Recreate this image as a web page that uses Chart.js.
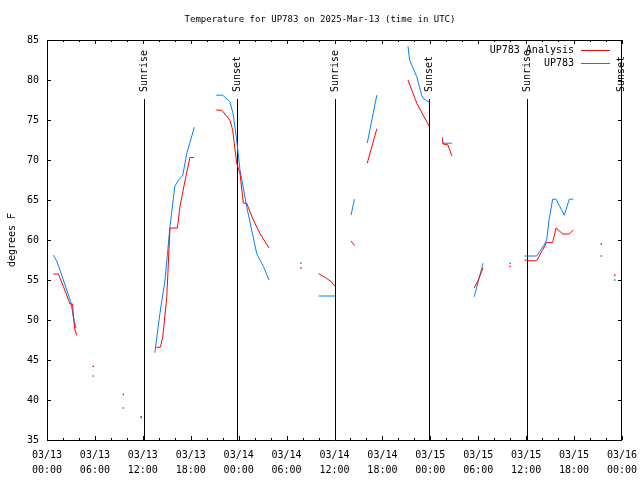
<!DOCTYPE html>
<html>
<head>
<meta charset="utf-8">
<script src="https://cdn.jsdelivr.net/npm/chart.js@4"></script>
<style>
  html, body { margin: 0; padding: 0; background: #fff; }
  #wrap { width: 640px; height: 480px; }
</style>
</head>
<body>
<div id="wrap"><canvas id="myChart" width="640" height="480"></canvas></div>
<script>
// hours since 03/13 00:00 UTC, null = gap in the record
var anaHours = [0.79, 1.42, 2.05, 2.88, 3.21, 3.3, 3.5, 3.72, 4.5,
    5.8, 6.5, 9.56, 10.5, 11.8, 12.5,
    13.7, 14.2, 14.5, 15.0, 15.4, 16.33, 16.65, 17.3, 17.9, 18.4, 19.5,
    21.2, 21.9, 22.9, 23.25, 23.75, 24.17, 24.58, 25.0, 25.83, 26.67, 27.8, 29,
    31.8, 33,
    34.0, 35.0, 35.6, 36.06, 37,
    38.07, 38.5, 39,
    40.1, 41.3, 43,
    45.2, 46.3, 47.87, 48.5,
    49.5, 49.6, 50.2, 50.7, 52,
    53.5, 54.0, 54.6, 56,
    58.0, 59,
    59.8, 60.5, 61.32, 62.57, 63.32, 63.74, 64.6, 65.4, 65.9, 67,
    69.4, 70,
    71.1];
var anaTemps = [55.75, 55.75, 54.2, 52.0, 52.0, 50.4, 48.75, 48.1, null,
    44.2, null, 40.7, null, 37.8, null,
    46.6, 46.6, 47.9, 52.9, 61.5, 61.5, 64.2, 67.5, 70.3, 70.3, null,
    76.25, 76.2, 75.0, 73.75, 69.6, 68.3, 64.6, 64.6, 62.5, 60.8, 59.0, null,
    56.5, null,
    55.8, 55.2, 54.8, 54.2, null,
    59.9, 59.3, null,
    69.6, 73.9, null,
    80.0, 77.1, 74.2, null,
    72.8, 72.0, 71.9, 70.5, null,
    54.0, 55.0, 56.5, null,
    56.7, null,
    57.5, 57.4, 57.4, 59.7, 59.7, 61.5, 60.75, 60.75, 61.25, null,
    59.5, null,
    55.6];

var obsHours = [0.79, 1.2, 1.63, 2.05, 2.47, 2.97, 3.3, 3.63, 4.5,
    5.8, 6.5, 9.56, 10.5, 11.8, 12.5,
    13.5, 14.15, 14.78, 15.4, 15.8, 16.0, 16.45, 16.98, 17.5, 18.45, 19.5,
    21.2, 22.0, 22.9, 23.3, 23.75, 24.17, 25.0, 26.26, 27.1, 27.8, 29,
    31.8, 33,
    34.0, 36.06, 37,
    38.07, 38.5, 39,
    40.1, 41.3, 43,
    45.2, 45.4, 46.3, 46.92, 47.1, 47.87, 48.5,
    49.5, 50.7, 52,
    53.5, 54.6, 56,
    58.0, 59,
    59.8, 61.32, 62.2, 62.57, 62.86, 63.32, 63.74, 64.78, 65.4, 65.9, 67,
    69.4, 70,
    71.1];
var obsTemps = [58.1, 57.4, 56.25, 55.0, 53.75, 52.3, 50.4, 49.0, null,
    43.0, null, 39.0, null, 37.9, null,
    45.9, 50.9, 55.0, 61.7, 65.0, 66.7, 67.5, 68.0, 70.8, 74.1, null,
    78.1, 78.1, 77.3, 75.8, 72.5, 68.75, 64.2, 58.3, 56.7, 55.0, null,
    57.1, null,
    53.0, 53.0, null,
    63.1, 65.1, null,
    72.1, 78.1, null,
    84.2, 82.5, 80.4, 78.1, 77.7, 77.2, null,
    72.1, 72.1, null,
    52.9, 57.1, null,
    57.1, null,
    58.0, 58.0, 59.3, 60.0, 62.5, 65.1, 65.1, 63.1, 65.1, 65.1, null,
    58.0, null,
    55.0];

var eventHours = [12.2, 23.85, 36.06, 47.87, 60.15, 71.9];
var eventLabels = ['Sunrise', 'Sunset', 'Sunrise', 'Sunset', 'Sunrise', 'Sunset'];
var yTicks = [35, 40, 45, 50, 55, 60, 65, 70, 75, 80, 85];

var FONT = '10px "DejaVu Sans Mono"';
var TITLE_FONT = '9px "DejaVu Sans Mono"';

function toPoints(hours, temps) {
    var pts = [];
    for (var i = 0; i < hours.length; i++) {
        pts.push({ x: hours[i], y: temps[i] });
    }
    return pts;
}

function dotRadius(ctx) {
    var d = ctx.dataset.data;
    var i = ctx.dataIndex;
    if (d[i].y == null) return 0;
    var prev = i > 0 ? d[i - 1].y : null;
    var next = i < d.length - 1 ? d[i + 1].y : null;
    return (prev == null && next == null) ? 1 : 0;
}

var framePlugin = {
    id: 'frame',
    beforeDatasetsDraw: function(chart) {
        var c = chart.ctx, a = chart.chartArea, xs = chart.scales.x;
        c.save();
        c.fillStyle = '#000';
        c.font = FONT;
        c.textBaseline = 'middle';
        c.textAlign = 'left';
        for (var i = 0; i < eventHours.length; i++) {
            var px = Math.round(xs.getPixelForValue(eventHours[i])) + 0.5;
            c.fillRect(px - 0.5, 99, 1, a.bottom - 99);
            c.save();
            c.translate(px, 92);
            c.rotate(-Math.PI / 2);
            c.fillText(eventLabels[i], 0, 0);
            c.restore();
        }
        c.restore();
    },
    afterDraw: function(chart) {
        var c = chart.ctx, a = chart.chartArea, xs = chart.scales.x, ys = chart.scales.y;
        c.save();
        c.strokeStyle = '#000';
        c.lineWidth = 1;
        c.beginPath();
        c.rect(Math.round(a.left) + 0.5, Math.round(a.top) + 0.5,
            Math.round(a.right - a.left) - 1, Math.round(a.bottom - a.top));
        // x ticks, major every 6 h, minor every 2 h
        for (var h = 0; h <= 72; h += 2) {
            var px = Math.round(xs.getPixelForValue(h)) + 0.5;
            var len = (h % 6 == 0) ? 4 : 2;
            c.moveTo(px, a.bottom); c.lineTo(px, a.bottom - len);
            c.moveTo(px, a.top); c.lineTo(px, a.top + len);
        }
        for (var j = 0; j < yTicks.length; j++) {
            var py = Math.round(ys.getPixelForValue(yTicks[j])) + 0.5;
            c.moveTo(a.left, py); c.lineTo(a.left + 4, py);
            c.moveTo(a.right, py); c.lineTo(a.right - 4, py);
        }
        c.stroke();

        // title
        c.fillStyle = '#000';
        c.font = TITLE_FONT;
        c.textAlign = 'center';
        c.textBaseline = 'middle';
        c.fillText('Temperature for UP783 on 2025-Mar-13 (time in UTC)', 320, 20);

        // key
        c.font = FONT;
        c.textAlign = 'right';
        var ds = chart.data.datasets;
        for (var k = 0; k < ds.length; k++) {
            var ky = 50 + k * 13;
            c.fillStyle = '#000';
            c.fillText(ds[k].label, 574, ky);
            c.strokeStyle = ds[k].borderColor;
            c.beginPath();
            c.moveTo(581, ky + 0.5); c.lineTo(610, ky + 0.5);
            c.stroke();
        }
        c.restore();
    }
};

const ctx = document.getElementById('myChart').getContext('2d');
const myChart = new Chart(ctx, {
    type: 'line',
    data: {
        datasets: [{
            label: 'UP783 Analysis',
            data: toPoints(anaHours, anaTemps),
            borderColor: '#ff0000',
            backgroundColor: '#ff0000',
            borderWidth: 1,
            pointRadius: dotRadius,
            pointStyle: 'rect',
            pointBorderWidth: 0,
            spanGaps: false,
            tension: 0
        }, {
            label: 'UP783',
            data: toPoints(obsHours, obsTemps),
            borderColor: '#0080ff',
            backgroundColor: '#0080ff',
            borderWidth: 1,
            pointRadius: dotRadius,
            pointStyle: 'rect',
            pointBorderWidth: 0,
            spanGaps: false,
            tension: 0
        }]
    },
    options: {
        responsive: false,
        animation: false,
        layout: { padding: { top: 40, right: 18, left: 0, bottom: 0 } },
        plugins: {
            legend: { display: false },
            tooltip: { enabled: false }
        },
        scales: {
            x: {
                type: 'linear',
                min: 0,
                max: 72,
                grid: { display: false, drawTicks: false },
                border: { display: false },
                afterFit: function(s) {
                    s.height = 40;
                    s.paddingLeft = 0;
                    s.paddingRight = 0;
                },
                ticks: {
                    stepSize: 6,
                    autoSkip: false,
                    maxRotation: 0,
                    padding: 8,
                    color: '#000',
                    font: { family: 'DejaVu Sans Mono', size: 10, lineHeight: 1.5 },
                    callback: function(v) {
                        var day = 13 + Math.floor(v / 24);
                        var hr = v % 24;
                        return ['03/' + day, (hr < 10 ? '0' : '') + hr + ':00'];
                    }
                }
            },
            y: {
                min: 35,
                max: 85,
                grid: { display: false, drawTicks: false },
                border: { display: false },
                afterFit: function(s) {
                    s.width = 47;
                    s.paddingTop = 0;
                    s.paddingBottom = 0;
                },
                title: {
                    display: true,
                    text: 'degrees F',
                    color: '#000',
                    padding: { top: 6, bottom: 0 },
                    font: { family: 'DejaVu Sans Mono', size: 10 }
                },
                ticks: {
                    stepSize: 5,
                    padding: 8,
                    color: '#000',
                    font: { family: 'DejaVu Sans Mono', size: 10 }
                }
            }
        }
    },
    plugins: [framePlugin]
});
</script>
</body>
</html>
